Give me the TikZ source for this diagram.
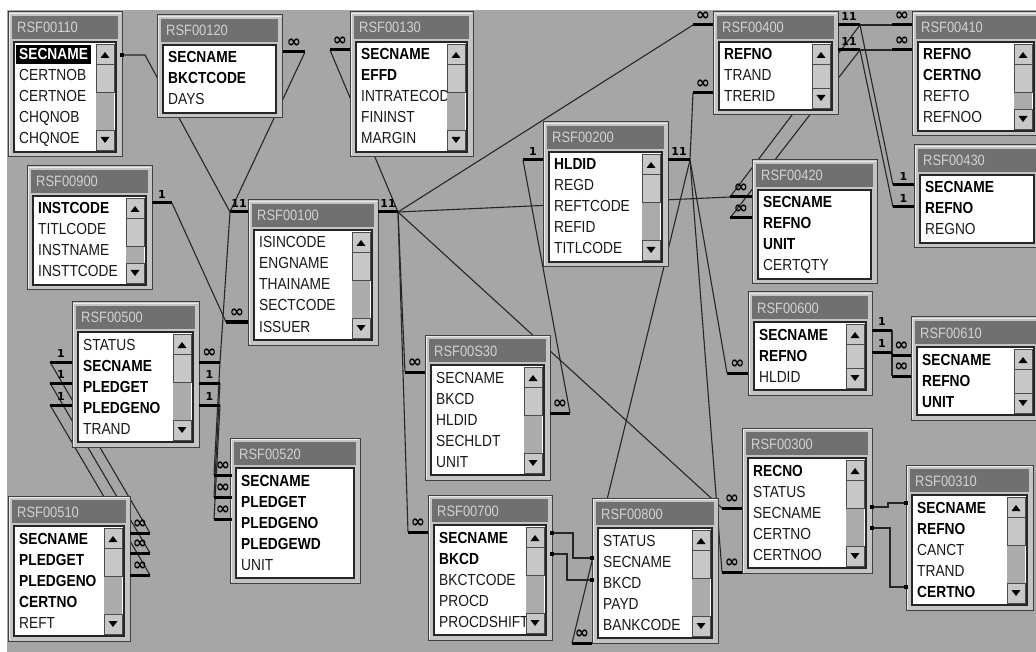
\documentclass[tikz,border=0pt]{standalone}
\usepackage{fontspec}
\setmainfont{Liberation Sans}[FakeStretch=0.86]
\newfontfamily\djv{DejaVu Sans}
\pgfdeclarelayer{back}
\pgfdeclarelayer{wires}
\pgfsetlayers{back,wires,main}
\definecolor{bggray}{HTML}{A6A6A6}
\definecolor{framegray}{HTML}{C4C4C4}
\definecolor{titlegray}{HTML}{707070}
\definecolor{titletxt}{HTML}{D2D2D2}
\definecolor{sbgray}{HTML}{ABABAB}
\definecolor{btngray}{HTML}{C8C8C8}
\tikzset{
 tblframe/.style={draw=black!75, line width=1pt, fill=framegray, inner sep=0pt, outer sep=0pt},
 titlebar/.style={fill=titlegray},
 titletext/.style={text=titletxt, font=\fontsize{15}{15}\selectfont, inner sep=0pt},
 listbox/.style={draw=black!85, line width=1.6pt, fill=white},
 rown/.style={font=\fontsize{16}{16}\selectfont, inner sep=0pt, text=black!90},
 rowb/.style={font=\fontsize{16}{16}\selectfont\bfseries, inner sep=0pt},
 rowh/.style={font=\fontsize{16}{16}\selectfont\bfseries, inner xsep=3pt, inner ysep=4pt, fill=black, text=white, xshift=-3pt},
 sbbtn/.style={draw=black!70, line width=0.8pt, fill=btngray},
 wire/.style={draw=black!85, line width=1.1pt},
 bar/.style={draw=black, line width=3pt},
 mklab/.style={inner sep=0pt},
}
\newcommand\infsym{{\djv\bfseries\fontsize{17}{17}\selectfont ∞}}
\newcommand\onesym[1]{{\djv\bfseries\fontsize{11}{11}\selectfont #1}}
\newcommand\tbl[7]{%
 \pgfmathsetmacro\tyb{#3+40+21*#5}%
 \pgfmathsetmacro\tw{#4-#2}%
 \pgfmathsetmacro\th{\tyb-#3}%
 \node[tblframe, anchor=north west, minimum width=\tw pt, minimum height=\th pt] (#1) at (#2,#3) {};%
 \draw[white!85!gray, line width=1pt] (#2+1.5,\tyb-1.5) -- (#2+1.5,#3+1.5) -- (#4-1.5,#3+1.5);%
 \fill[titlebar] (#2+4,#3+4) rectangle (#4-4,#3+27);%
 \node[titletext, anchor=base west] (#1-t) at (#2+9,#3+21) {#1};%
 \draw[listbox] (#2+6,#3+30) rectangle (#4-6,\tyb-5);%
 \foreach \st/\txt [count=\i] in {#6} {%
   \node[row\st, anchor=base west] (#1-r\i) at (#2+11,#3+48+21*\i-21) {\txt};}%
 \ifnum#7=1
   \fill[sbgray] (#4-26,#3+32) rectangle (#4-8,\tyb-7);
   \draw[sbbtn] (#4-26,#3+32) rectangle (#4-8,#3+52);
   \fill (#4-21.5,#3+46) -- (#4-12.5,#3+46) -- (#4-17,#3+40) -- cycle;
   \draw[sbbtn] (#4-26,#3+52) rectangle (#4-8,#3+80);
   \draw[sbbtn] (#4-26,\tyb-27) rectangle (#4-8,\tyb-7);
   \fill (#4-21.5,\tyb-20) -- (#4-12.5,\tyb-20) -- (#4-17,\tyb-14) -- cycle;
 \fi
}
% marker: name, outer x, inner x, y, label
\newcommand\mk[5]{%
 \draw[bar] (#3,#4) -- (#2,#4);%
 \coordinate (#1) at (#2,#4);%
 \node[mklab] (#1-l) at ({(#2+#3)/2},#4-9) {#5};%
}
\begin{document}
\begin{tikzpicture}[x=1pt,y=-1pt]
\useasboundingbox (0,0) rectangle (1036,652);
\clip (0,0) rectangle (1036,652);
\begin{pgfonlayer}{back}
\fill[white] (0,0) rectangle (1036,652);
\fill[bggray] (7,10) rectangle (1036,652);
\end{pgfonlayer}

\tbl{RSF00110}{8}{12}{122}{5}{h/SECNAME,n/CERTNOB,n/CERTNOE,n/CHQNOB,n/CHQNOE}{1}
\tbl{RSF00120}{157}{15}{282}{3}{b/SECNAME,b/BKCTCODE,n/DAYS}{0}
\tbl{RSF00130}{350}{12}{473}{5}{b/SECNAME,b/EFFD,n/INTRATECOD,n/FININST,n/MARGIN}{1}
\tbl{RSF00400}{713}{12}{838}{3}{b/REFNO,n/TRAND,n/TRERID}{1}
\tbl{RSF00410}{912}{12}{1040}{4}{b/REFNO,b/CERTNO,n/REFTO,n/REFNOO}{1}
\tbl{RSF00430}{914}{145}{1040}{3}{b/SECNAME,b/REFNO,n/REGNO}{0}
\tbl{RSF00200}{543}{122}{668}{5}{b/HLDID,n/REGD,n/REFTCODE,n/REFID,n/TITLCODE}{1}
\tbl{RSF00900}{27}{166}{152}{4}{b/INSTCODE,n/TITLCODE,n/INSTNAME,n/INSTTCODE}{1}
\tbl{RSF00100}{248}{200}{378}{5}{n/ISINCODE,n/ENGNAME,n/THAINAME,n/SECTCODE,n/ISSUER}{1}
\tbl{RSF00500}{72}{302}{199}{5}{n/STATUS,b/SECNAME,b/PLEDGET,b/PLEDGENO,n/TRAND}{1}
\tbl{RSF00520}{230}{438}{360}{5}{b/SECNAME,b/PLEDGET,b/PLEDGENO,b/PLEDGEWD,n/UNIT}{0}
\tbl{RSF00510}{8}{496}{130}{5}{b/SECNAME,b/PLEDGET,b/PLEDGENO,b/CERTNO,n/REFT}{1}
\tbl{RSF00S30}{425}{335}{550}{5}{n/SECNAME,n/BKCD,n/HLDID,n/SECHLDT,n/UNIT}{1}
\tbl{RSF00700}{428}{495}{552}{5}{b/SECNAME,b/BKCD,n/BKCTCODE,n/PROCD,n/PROCDSHIFT}{1}
\tbl{RSF00800}{592}{498}{718}{5}{n/STATUS,n/SECNAME,n/BKCD,n/PAYD,n/BANKCODE}{1}
\tbl{RSF00420}{752}{160}{877}{4}{b/SECNAME,b/REFNO,b/UNIT,n/CERTQTY}{0}
\tbl{RSF00600}{748}{292}{872}{3}{b/SECNAME,b/REFNO,n/HLDID}{1}
\tbl{RSF00610}{911}{317}{1040}{3}{b/SECNAME,b/REFNO,b/UNIT}{1}
\tbl{RSF00300}{742}{428}{872}{5}{b/RECNO,n/STATUS,n/SECNAME,n/CERTNO,n/CERTNOO}{1}
\tbl{RSF00310}{906}{465}{1033}{5}{b/SECNAME,b/REFNO,n/CANCT,n/TRAND,b/CERTNO}{1}

% markers
\mk{m1}{305}{283}{52}{\infsym}
\mk{m2}{330}{350}{50}{\infsym}
\mk{m3}{230}{248}{212}{\onesym{11}}
\mk{m4}{398}{378}{212}{\onesym{11}}
\mk{m5}{172}{152}{203}{\onesym{1}}
\mk{m6}{226}{248}{322}{\infsym}
\mk{m7}{693}{713}{25}{\infsym}
\mk{m8}{693}{713}{93}{\infsym}
\mk{m9}{523}{543}{160}{\onesym{1}}
\mk{m10}{690}{668}{160}{\onesym{11}}
\mk{m11}{860}{838}{25}{\onesym{11}}
\mk{m12}{860}{838}{50}{\onesym{11}}
\mk{m13}{892}{912}{25}{\infsym}
\mk{m14}{892}{912}{50}{\infsym}
\mk{m15}{893}{914}{185}{\onesym{1}}
\mk{m16}{893}{914}{207}{\onesym{1}}
\mk{m17}{730}{752}{197}{\infsym}
\mk{m18}{730}{752}{218}{\infsym}
\mk{m19}{405}{425}{372}{\infsym}
\mk{m20}{408}{428}{532}{\infsym}
\mk{m21}{570}{550}{413}{\infsym}
\mk{m22}{727}{748}{373}{\infsym}
\mk{m23}{722}{742}{508}{\infsym}
\mk{m24}{722}{742}{572}{\infsym}
\mk{m25}{572}{592}{643}{\infsym}
\mk{m26}{892}{872}{330}{\onesym{1}}
\mk{m27}{892}{872}{352}{\onesym{1}}
\mk{m28}{892}{911}{355}{\infsym}
\mk{m29}{892}{911}{376}{\infsym}
\mk{m30}{220}{199}{362}{\infsym}
\mk{m31}{220}{199}{383}{\onesym{1}}
\mk{m32}{220}{199}{405}{\onesym{1}}
\mk{m33}{214}{232}{475}{\infsym}
\mk{m34}{214}{232}{497}{\infsym}
\mk{m35}{214}{232}{519}{\infsym}
\mk{m36}{50}{72}{362}{\onesym{1}}
\mk{m37}{50}{72}{383}{\onesym{1}}
\mk{m38}{50}{72}{405}{\onesym{1}}
\mk{m39}{150}{130}{533}{\infsym}
\mk{m40}{150}{130}{553}{\infsym}
\mk{m41}{150}{130}{575}{\infsym}

% thin join end points
\coordinate (j1a) at (122,55);
\coordinate (j1b) at (145,55);
\coordinate (j2a) at (552,533);
\coordinate (j2b) at (573,533);
\coordinate (j2c) at (573,558);
\coordinate (j2d) at (592,558);
\coordinate (j3a) at (552,554);
\coordinate (j3b) at (567,554);
\coordinate (j3c) at (567,580);
\coordinate (j3d) at (592,580);
\coordinate (j4a) at (872,507);
\coordinate (j4b) at (888,507);
\coordinate (j4c) at (888,503);
\coordinate (j4d) at (906,503);
\coordinate (j5a) at (872,528);
\coordinate (j5b) at (890,528);
\coordinate (j5c) at (890,587);
\coordinate (j5d) at (906,587);

\begin{pgfonlayer}{wires}
\draw[wire] (j1a) -- (j1b) -- (m3);
\draw[wire] (m1) -- (m3);
\draw[wire] (m2) -- (m4);
\draw[wire] (m5) -- (m6);
\draw[wire] (m3) -- (m30);
\draw[wire] (m30) -- (m33);
\draw[wire] (m31) -- (m34);
\draw[wire] (m32) -- (m35);
\draw[wire] (m36) -- (m39);
\draw[wire] (m37) -- (m40);
\draw[wire] (m38) -- (m41);
\draw[wire] (m4) -- (m7);
\draw[wire] (m4) -- (m17);
\draw[wire] (m4) -- (m23);
\draw[wire] (m4) -- (m19);
\draw[wire] (m4) -- (m20);
\draw[wire] (m9) -- (m21);
\draw[wire] (m10) -- (m8);
\draw[wire] (m10) -- (m22);
\draw[wire] (m10) -- (m24);
\draw[wire] (m10) -- (m25);
\draw[wire] (m11) -- (m13);
\draw[wire] (m12) -- (m14);
\draw[wire] (m11) -- (m15);
\draw[wire] (m12) -- (m16);
\draw[wire] (m11) -- (m17);
\draw[wire] (m12) -- (m18);
\draw[wire] (m26) -- (m28);
\draw[wire] (m27) -- (m29);
\draw[wire] (j2a) -- (j2b) -- (j2c) -- (j2d);
\draw[wire] (j3a) -- (j3b) -- (j3c) -- (j3d);
\draw[wire] (j4a) -- (j4b) -- (j4c) -- (j4d);
\draw[wire] (j5a) -- (j5b) -- (j5c) -- (j5d);
\end{pgfonlayer}
\foreach \c in {j1a,j2a,j2d,j3a,j3d,j4a,j4d,j5a,j5d}
  \fill (\c) ++(-1.8,-1.8) rectangle ++(3.6,3.6);
\end{tikzpicture}
\end{document}
